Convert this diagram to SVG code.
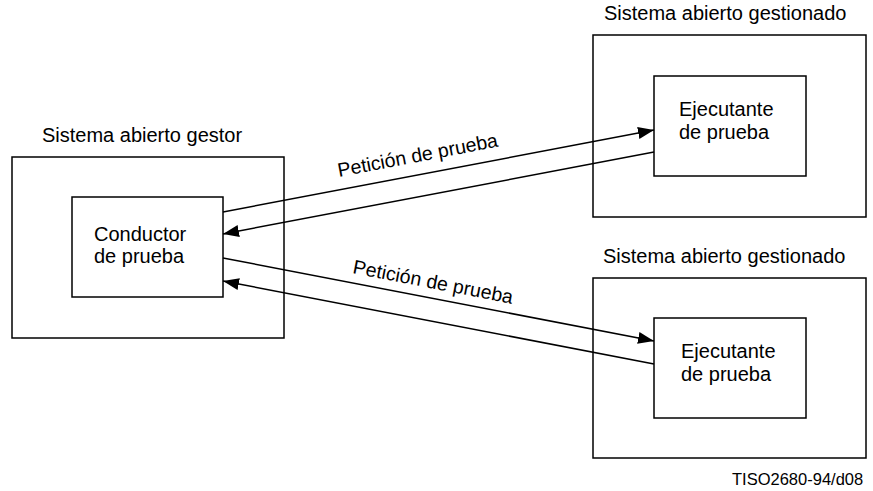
<svg xmlns="http://www.w3.org/2000/svg" width="873" height="491" viewBox="0 0 873 491">
<style>
.box{fill:#fff;stroke:#000;stroke-width:1.5}
.t{font-family:"Liberation Sans",Arial,sans-serif;font-size:20px;fill:#000}
.lt{font-family:"Liberation Sans",Arial,sans-serif;font-size:19.5px;fill:#000}
.c{stroke:#000;stroke-width:1.5;fill:none;marker-end:url(#ah)}
</style>
<defs>
<marker id="ah" markerUnits="userSpaceOnUse" markerWidth="17" markerHeight="13" refX="16" refY="6" orient="auto">
<path d="M0,0 L16,6 L0,12 z" fill="#000"/>
</marker>
</defs>
<rect width="873" height="491" fill="#fff"/>
<g id="gestor">
<rect class="box" x="12" y="157" width="272" height="181"/>
<text class="t" x="42" y="142">Sistema abierto gestor</text>
</g>
<g id="conductor">
<rect class="box" x="72" y="197" width="151" height="100"/>
<text class="t" x="94" y="241">Conductor</text>
<text class="t" x="94" y="263">de prueba</text>
</g>
<g id="gestionado1">
<rect class="box" x="593" y="35" width="273" height="182"/>
<text class="t" x="604" y="20">Sistema abierto gestionado</text>
</g>
<g id="ejecutante1">
<rect class="box" x="654" y="76" width="152" height="100"/>
<text class="t" x="679" y="116">Ejecutante</text>
<text class="t" x="679" y="139">de prueba</text>
</g>
<g id="gestionado2">
<rect class="box" x="593" y="278" width="273" height="180"/>
<text class="t" x="603" y="263">Sistema abierto gestionado</text>
</g>
<g id="ejecutante2">
<rect class="box" x="654" y="318" width="152" height="100"/>
<text class="t" x="681" y="358">Ejecutante</text>
<text class="t" x="681" y="381">de prueba</text>
</g>
<g id="connectors">
<line class="c" x1="223" y1="212" x2="654" y2="130"/>
<line class="c" x1="654" y1="152" x2="223" y2="234"/>
<line class="c" x1="223" y1="258" x2="654" y2="341"/>
<line class="c" x1="654" y1="364" x2="223" y2="281"/>
<text class="lt" x="339" y="177" transform="rotate(-10.8 339 177)">Petición de prueba</text>
<text class="lt" x="352" y="273" transform="rotate(10.9 352 273)">Petición de prueba</text>
</g>
<text class="lt" x="732" y="485" style="font-size:16.5px">TISO2680-94/d08</text>
</svg>
